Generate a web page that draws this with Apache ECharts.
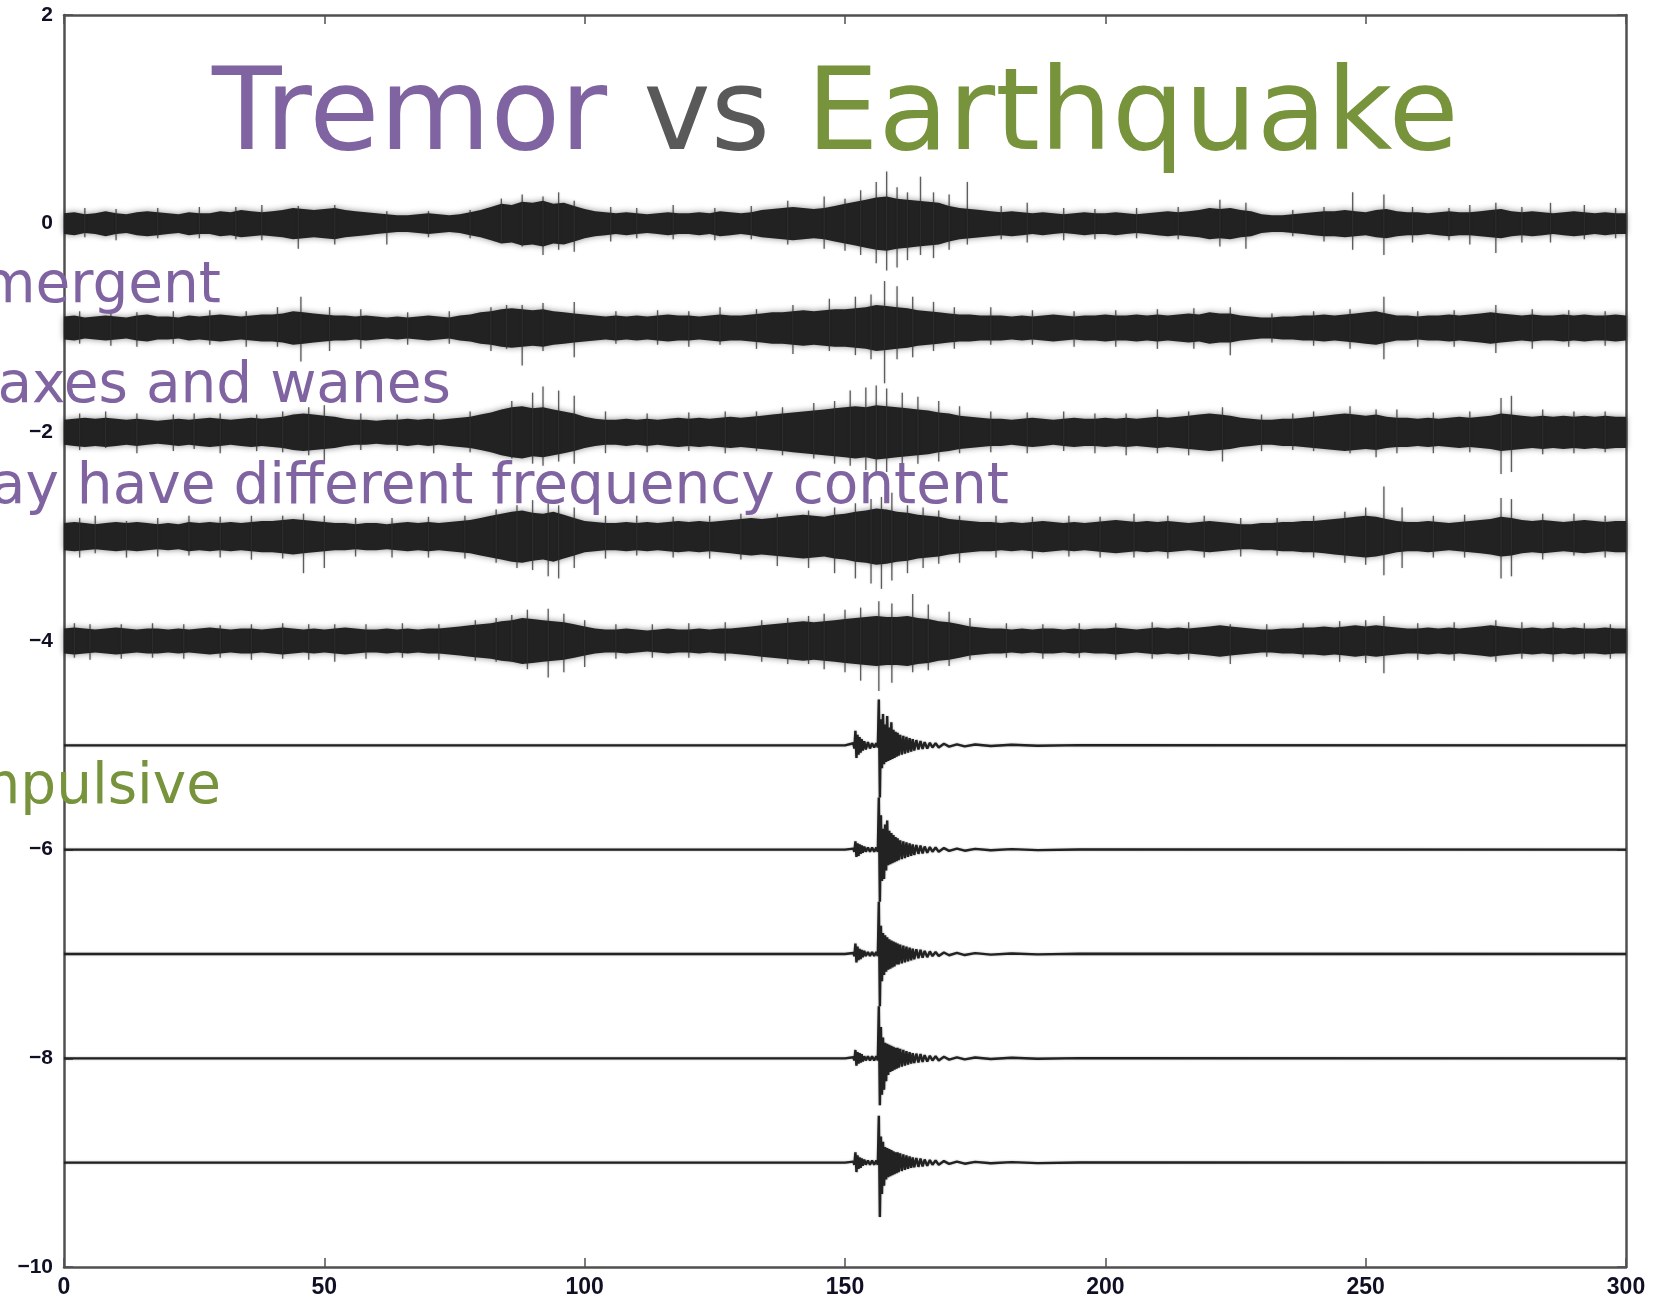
<!DOCTYPE html>
<html>
<head>
<meta charset="utf-8">
<script src="https://cdn.jsdelivr.net/npm/echarts@6/dist/echarts.min.js"></script>
<style>
  html, body { margin: 0; padding: 0; background: #ffffff; }
  #chart { width: 1659px; height: 1303px; }
</style>
</head>
<body>
<div id="chart"></div>
<script>
// ---- Axis ticks -----------------------------------------------------------
const timeTicks = [0, 50, 100, 150, 200, 250, 300];   // seconds
const offsetTicks = [2, 0, -2, -4, -6, -8, -10];      // trace offsets

// ---- Tremor traces (offsets 0 .. -4) --------------------------------------
// Half-width of the dense noise band, hundredths of a unit, one value per 2 s.
const BIN = 2;
const tremorOffsets = [0, -1, -2, -3, -4];

const tremorEnv0 = [
  10, 11, 9, 10, 12, 10, 9, 11, 12, 11,
  10, 9, 11, 10, 10, 12, 11, 13, 12, 11,
  12, 13, 15, 14, 13, 14, 15, 13, 12, 11,
  10, 9, 8, 8, 9, 10, 9, 8, 9, 11,
  13, 16, 19, 18, 21, 20, 22, 19, 20, 17,
  14, 12, 11, 10, 11, 10, 9, 10, 11, 10,
  10, 11, 10, 12, 11, 10, 11, 13, 14, 15,
  16, 15, 14, 15, 17, 19, 21, 23, 25, 26,
  24, 23, 22, 21, 20, 17, 15, 14, 13, 12,
  11, 12, 11, 10, 11, 10, 9, 10, 11, 10,
  10, 11, 10, 9, 10, 11, 12, 11, 12, 13,
  15, 14, 15, 13, 12, 9, 8, 8, 9, 10,
  11, 12, 12, 13, 12, 11, 13, 14, 12, 11,
  11, 10, 11, 12, 11, 11, 12, 13, 14, 12,
  11, 12, 11, 10, 11, 12, 11, 10, 11, 10,
  10
];
const tremorEnv1 = [
  11, 12, 10, 11, 12, 11, 10, 12, 13, 11,
  11, 10, 12, 11, 12, 13, 12, 11, 12, 13,
  13, 14, 16, 15, 14, 13, 12, 12, 11, 12,
  11, 10, 11, 10, 11, 12, 11, 10, 12, 13,
  15, 16, 18, 19, 18, 17, 18, 16, 15, 14,
  13, 12, 11, 12, 11, 12, 11, 12, 13, 12,
  12, 11, 12, 13, 12, 12, 13, 14, 15, 15,
  16, 17, 16, 17, 18, 18, 19, 20, 22, 21,
  20, 19, 17, 16, 15, 14, 13, 13, 12, 12,
  12, 11, 12, 11, 12, 13, 12, 11, 12, 12,
  13, 12, 12, 13, 12, 13, 12, 13, 14, 13,
  15, 14, 14, 12, 11, 10, 10, 11, 11, 12,
  12, 13, 12, 13, 14, 15, 16, 14, 12, 12,
  11, 12, 12, 13, 12, 13, 14, 15, 14, 13,
  12, 13, 12, 12, 13, 12, 13, 12, 12, 13,
  12
];
const tremorEnv2 = [
  12, 13, 14, 13, 14, 13, 12, 13, 12, 11,
  12, 13, 12, 13, 14, 13, 12, 13, 14, 13,
  14, 15, 17, 18, 17, 16, 15, 13, 12, 12,
  11, 12, 12, 13, 12, 13, 12, 13, 14, 15,
  17, 19, 22, 24, 25, 23, 24, 22, 20, 18,
  15, 13, 12, 12, 13, 12, 13, 12, 13, 14,
  13, 14, 13, 14, 15, 14, 15, 16, 17, 18,
  19, 20, 21, 22, 23, 24, 25, 24, 26, 25,
  24, 23, 22, 21, 19, 18, 16, 15, 14, 13,
  13, 12, 13, 14, 13, 12, 13, 14, 13, 13,
  14, 13, 14, 13, 14, 15, 14, 15, 16, 17,
  18, 17, 16, 14, 13, 12, 12, 13, 13, 14,
  15, 16, 17, 18, 17, 16, 17, 15, 14, 14,
  13, 14, 13, 14, 15, 14, 15, 16, 18, 17,
  16, 15, 16, 15, 16, 15, 16, 15, 16, 15,
  15
];
const tremorEnv3 = [
  13, 14, 13, 12, 13, 14, 13, 14, 13, 12,
  13, 12, 14, 13, 14, 13, 14, 13, 14, 15,
  15, 16, 17, 16, 15, 14, 13, 13, 12, 13,
  13, 12, 13, 14, 13, 14, 13, 14, 15, 16,
  18, 20, 22, 24, 25, 23, 22, 24, 21, 18,
  15, 14, 13, 13, 14, 13, 14, 13, 14, 15,
  14, 15, 14, 15, 16, 17, 18, 17, 18, 19,
  20, 21, 20, 19, 21, 22, 24, 25, 27, 26,
  24, 23, 21, 20, 19, 17, 16, 15, 14, 14,
  13, 14, 13, 14, 15, 14, 13, 14, 13, 14,
  15, 16, 15, 14, 15, 14, 15, 14, 13, 14,
  15, 14, 13, 12, 12, 13, 13, 14, 14, 15,
  15, 16, 17, 18, 19, 20, 19, 17, 15, 14,
  14, 15, 14, 13, 14, 15, 16, 17, 19, 18,
  16, 15, 16, 15, 14, 15, 16, 15, 14, 15,
  15
];
const tremorEnv4 = [
  12, 13, 12, 11, 12, 13, 12, 11, 12, 12,
  11, 12, 11, 12, 13, 12, 11, 12, 12, 11,
  12, 13, 12, 11, 12, 11, 12, 13, 12, 11,
  11, 12, 11, 12, 11, 12, 12, 13, 14, 15,
  16, 17, 19, 20, 22, 21, 20, 19, 18, 16,
  14, 12, 11, 11, 12, 11, 10, 11, 12, 11,
  11, 12, 11, 12, 12, 13, 14, 15, 16, 17,
  18, 19, 18, 19, 20, 21, 22, 23, 24, 23,
  23, 24, 22, 21, 19, 18, 16, 14, 13, 12,
  12, 11, 12, 11, 12, 12, 11, 12, 11, 12,
  12, 13, 12, 11, 12, 13, 12, 13, 12, 13,
  14, 15, 14, 13, 12, 11, 11, 12, 12, 13,
  13, 14, 13, 14, 15, 14, 15, 14, 13, 12,
  12, 13, 12, 13, 12, 13, 14, 15, 14, 13,
  12, 13, 12, 13, 12, 13, 12, 12, 13, 12,
  12
];

// Individual excursions standing out of the band: [time s, peak up, peak down]
const tremorSpikes0 = [
  [4, 0.15, -0.13], [10, 0.14, -0.16], [18, 0.15, -0.14], [26, 0.16, -0.14],
  [33, 0.16, -0.15], [38, 0.18, -0.16], [45, 0.17, -0.24], [52, 0.18, -0.2],
  [62, 0.12, -0.2], [70, 0.12, -0.13], [78, 0.13, -0.14], [84, 0.24, -0.18],
  [88, 0.28, -0.22], [92, 0.26, -0.3], [95, 0.3, -0.25], [98, 0.22, -0.27],
  [105, 0.16, -0.17], [110, 0.15, -0.14], [117, 0.18, -0.15], [125, 0.15, -0.16],
  [132, 0.17, -0.15], [139, 0.22, -0.2], [146, 0.26, -0.24], [150, 0.24, -0.26],
  [153, 0.32, -0.3], [156, 0.4, -0.38], [158, 0.5, -0.45], [160, 0.35, -0.42],
  [162, 0.3, -0.35], [164.5, 0.45, -0.3], [167, 0.3, -0.33], [170, 0.28, -0.25],
  [173.5, 0.4, -0.2], [180, 0.17, -0.15], [185, 0.2, -0.18], [192, 0.15, -0.16],
  [198, 0.14, -0.15], [206, 0.15, -0.14], [214, 0.16, -0.15], [222, 0.23, -0.22],
  [227, 0.2, -0.24], [236, 0.13, -0.12], [242, 0.16, -0.17], [247.5, 0.3, -0.25],
  [253.5, 0.28, -0.3], [259, 0.16, -0.18], [266, 0.15, -0.16], [270, 0.18, -0.2],
  [275, 0.2, -0.28], [280, 0.16, -0.18], [285.5, 0.2, -0.18], [292, 0.18, -0.15],
  [298, 0.15, -0.14]
];
const tremorSpikes1 = [
  [3, 0.16, -0.15], [9, 0.15, -0.17], [14, 0.15, -0.18], [21, 0.16, -0.15],
  [28, 0.17, -0.16], [35, 0.16, -0.18], [41, 0.2, -0.18], [45.5, 0.3, -0.32],
  [51, 0.2, -0.22], [57, 0.18, -0.2], [66, 0.15, -0.16], [74, 0.16, -0.15],
  [82, 0.2, -0.22], [85, 0.22, -0.2], [88, 0.22, -0.36], [92, 0.24, -0.22],
  [98, 0.25, -0.28], [106, 0.16, -0.15], [114, 0.17, -0.16], [120, 0.16, -0.18],
  [126, 0.2, -0.16], [133, 0.18, -0.2], [140, 0.22, -0.25], [147, 0.28, -0.22],
  [152, 0.3, -0.26], [155, 0.32, -0.3], [157.6, 0.45, -0.53], [160, 0.4, -0.3],
  [163, 0.3, -0.28], [167, 0.25, -0.22], [171, 0.2, -0.2], [178, 0.2, -0.16],
  [186, 0.17, -0.16], [194, 0.16, -0.18], [202, 0.17, -0.18], [210, 0.18, -0.2],
  [217, 0.19, -0.2], [224, 0.2, -0.26], [232, 0.14, -0.14], [240, 0.16, -0.17],
  [247, 0.18, -0.2], [253.5, 0.3, -0.3], [260, 0.16, -0.18], [267, 0.17, -0.18],
  [275, 0.22, -0.24], [282, 0.18, -0.2], [289, 0.17, -0.18], [296, 0.16, -0.17]
];
const tremorSpikes2 = [
  [3, 0.18, -0.17], [8, 0.2, -0.15], [14, 0.18, -0.2], [21, 0.17, -0.18],
  [25, 0.18, -0.16], [30, 0.18, -0.2], [37, 0.17, -0.18], [42, 0.2, -0.19],
  [47, 0.24, -0.22], [50, 0.26, -0.3], [57, 0.18, -0.17], [64, 0.17, -0.18],
  [71, 0.18, -0.2], [78, 0.2, -0.19], [86, 0.3, -0.25], [90, 0.38, -0.3],
  [92, 0.44, -0.32], [95, 0.4, -0.28], [98, 0.35, -0.3], [104, 0.2, -0.2],
  [112, 0.18, -0.19], [120, 0.19, -0.18], [127, 0.2, -0.2], [133, 0.2, -0.18],
  [138, 0.24, -0.22], [144, 0.28, -0.25], [148, 0.3, -0.3], [151, 0.4, -0.32],
  [154, 0.43, -0.36], [156, 0.45, -0.4], [158, 0.42, -0.38], [161, 0.38, -0.33],
  [164, 0.34, -0.3], [168, 0.3, -0.28], [172, 0.25, -0.2], [178, 0.2, -0.19],
  [185, 0.19, -0.2], [192, 0.2, -0.18], [198, 0.18, -0.2], [204, 0.18, -0.22],
  [210, 0.22, -0.2], [216, 0.2, -0.22], [222.5, 0.24, -0.28], [230, 0.17, -0.18],
  [236, 0.18, -0.17], [240, 0.2, -0.18], [247, 0.25, -0.2], [252, 0.22, -0.24],
  [256, 0.22, -0.2], [263, 0.19, -0.2], [270, 0.2, -0.19], [276, 0.33, -0.4],
  [278, 0.35, -0.38], [284, 0.22, -0.21], [290, 0.2, -0.2], [296, 0.2, -0.19]
];
const tremorSpikes3 = [
  [3, 0.18, -0.2], [6, 0.2, -0.16], [12, 0.15, -0.2], [18, 0.18, -0.19],
  [24, 0.2, -0.18], [30, 0.19, -0.2], [36, 0.2, -0.22], [42, 0.2, -0.21],
  [46, 0.22, -0.35], [50, 0.2, -0.3], [56, 0.18, -0.19], [63, 0.18, -0.2],
  [70, 0.19, -0.2], [77, 0.2, -0.21], [83, 0.26, -0.25], [87, 0.3, -0.3],
  [90, 0.35, -0.32], [93, 0.32, -0.38], [95, 0.3, -0.4], [98, 0.28, -0.3],
  [104, 0.2, -0.21], [110, 0.2, -0.18], [117, 0.19, -0.2], [124, 0.2, -0.21],
  [130, 0.22, -0.22], [137, 0.22, -0.28], [143, 0.25, -0.3], [148, 0.28, -0.35],
  [152, 0.32, -0.4], [155, 0.36, -0.45], [157, 0.38, -0.5], [159, 0.42, -0.42],
  [162, 0.3, -0.35], [165, 0.28, -0.3], [168, 0.25, -0.26], [172, 0.2, -0.25],
  [179, 0.2, -0.2], [186, 0.19, -0.21], [193, 0.2, -0.19], [199, 0.19, -0.2],
  [205.5, 0.22, -0.2], [212, 0.2, -0.21], [219, 0.2, -0.2], [226, 0.18, -0.19],
  [233, 0.18, -0.18], [240, 0.2, -0.2], [246, 0.24, -0.25], [250, 0.28, -0.27],
  [253.5, 0.48, -0.37], [257, 0.28, -0.3], [263, 0.2, -0.2], [269, 0.21, -0.2],
  [276, 0.37, -0.4], [278, 0.36, -0.38], [284, 0.22, -0.22], [290, 0.22, -0.18],
  [296, 0.2, -0.2]
];
const tremorSpikes4 = [
  [2, 0.17, -0.16], [5, 0.16, -0.18], [11, 0.16, -0.17], [17, 0.17, -0.16],
  [23, 0.16, -0.17], [30, 0.15, -0.16], [36, 0.16, -0.18], [42, 0.17, -0.17],
  [47, 0.16, -0.18], [52, 0.16, -0.2], [58, 0.16, -0.17], [65, 0.17, -0.16],
  [72, 0.16, -0.18], [79, 0.2, -0.19], [83, 0.22, -0.2], [86, 0.25, -0.2],
  [89, 0.3, -0.27], [93, 0.31, -0.35], [96, 0.26, -0.3], [100, 0.2, -0.25],
  [106, 0.16, -0.17], [113, 0.16, -0.16], [120, 0.17, -0.16], [127, 0.18, -0.19],
  [134, 0.2, -0.2], [139, 0.22, -0.22], [143, 0.24, -0.22], [146, 0.26, -0.27],
  [150, 0.3, -0.3], [153, 0.32, -0.38], [156.5, 0.38, -0.48], [159, 0.36, -0.4],
  [163, 0.45, -0.3], [166, 0.35, -0.28], [170, 0.28, -0.24], [174, 0.22, -0.18],
  [181, 0.17, -0.16], [188, 0.16, -0.17], [195, 0.17, -0.16], [202, 0.17, -0.18],
  [209, 0.18, -0.17], [216, 0.18, -0.18], [224, 0.16, -0.22], [231, 0.16, -0.15],
  [238, 0.17, -0.16], [245, 0.19, -0.2], [250, 0.2, -0.21], [253.5, 0.24, -0.31],
  [260, 0.17, -0.18], [267, 0.18, -0.19], [275, 0.2, -0.2], [280, 0.18, -0.17],
  [286, 0.18, -0.2], [292, 0.17, -0.17], [297, 0.16, -0.17]
];

// ---- Earthquake traces (offsets -5 .. -9) ---------------------------------
const quakeOffsets = [-5, -6, -7, -8, -9];
const quakeTime = [
  // quiet lead-in and P arrival
  0, 150, 151.6, 151.8, 152.0, 152.2, 152.4, 152.6, 152.8, 153.0,
  153.2, 153.4, 153.7, 154.0, 154.4, 154.8, 155.2, 155.6, 156.0, 156.3,
  // main arrival
  156.5, 156.7, 156.9, 157.1, 157.3, 157.5, 157.7, 157.9, 158.1, 158.3,
  158.5, 158.7, 158.9, 159.1, 159.3, 159.5, 159.7, 159.9, 160.1, 160.3,
  // coda
  160.6, 160.9, 161.2, 161.5, 161.8, 162.1, 162.4, 162.7, 163.0, 163.3,
  163.7, 164.1, 164.5, 164.9, 165.3, 165.8, 166.3, 166.8, 167.4, 168.0,
  // tail
  169, 170, 171.5, 173, 175, 178, 182, 187, 195, 300
];
const quake5 = [
  0, 0, 0.02, -0.03, 0.14, -0.12, 0.1, -0.09, 0.08, -0.07,
  0.06, -0.05, 0.04, -0.04, 0.03, -0.03, 0.02, -0.02, 0.02, -0.02,
  0.44, -0.5, 0.25, -0.22, 0.3, -0.18, 0.2, -0.16, 0.28, -0.15,
  0.17, -0.14, 0.22, -0.13, 0.15, -0.12, 0.13, -0.11, 0.12, -0.1,
  0.1, -0.09, 0.09, -0.08, 0.08, -0.07, 0.07, -0.06, 0.06, -0.05,
  0.05, -0.04, 0.04, -0.035, 0.03, -0.03, 0.025, -0.02, 0.02, -0.02,
  0.015, -0.012, 0.01, -0.01, 0.008, -0.006, 0.005, -0.004, 0.002, 0
];
const quake6 = [
  0, 0, 0.01, -0.02, 0.08, -0.07, 0.06, -0.06, 0.05, -0.04,
  0.04, -0.03, 0.03, -0.02, 0.02, -0.02, 0.02, -0.02, 0.02, -0.02,
  0.5, -0.5, 0.33, -0.3, 0.2, -0.28, 0.24, -0.2, 0.28, -0.15,
  0.18, -0.14, 0.16, -0.13, 0.14, -0.12, 0.12, -0.11, 0.11, -0.1,
  0.09, -0.09, 0.08, -0.08, 0.07, -0.07, 0.06, -0.06, 0.05, -0.05,
  0.045, -0.04, 0.04, -0.035, 0.03, -0.03, 0.025, -0.02, 0.02, -0.02,
  0.015, -0.012, 0.01, -0.01, 0.008, -0.006, 0.005, -0.004, 0.002, 0
];
const quake7 = [
  0, 0, 0.01, -0.02, 0.1, -0.08, 0.07, -0.06, 0.05, -0.05,
  0.04, -0.03, 0.03, -0.02, 0.02, -0.02, 0.02, -0.02, 0.02, -0.02,
  0.5, -0.5, 0.27, -0.26, 0.2, -0.2, 0.18, -0.17, 0.16, -0.15,
  0.14, -0.14, 0.13, -0.13, 0.12, -0.12, 0.11, -0.1, 0.1, -0.1,
  0.09, -0.09, 0.08, -0.08, 0.07, -0.07, 0.06, -0.06, 0.05, -0.05,
  0.045, -0.04, 0.04, -0.035, 0.03, -0.03, 0.025, -0.02, 0.02, -0.02,
  0.015, -0.012, 0.01, -0.01, 0.008, -0.006, 0.005, -0.004, 0.002, 0
];
const quake8 = [
  0, 0, 0.01, -0.02, 0.08, -0.07, 0.06, -0.05, 0.05, -0.04,
  0.04, -0.03, 0.02, -0.02, 0.02, -0.02, 0.02, -0.02, 0.02, -0.02,
  0.5, -0.45, 0.3, -0.35, 0.2, -0.3, 0.15, -0.22, 0.14, -0.16,
  0.13, -0.13, 0.12, -0.12, 0.11, -0.11, 0.1, -0.1, 0.1, -0.09,
  0.09, -0.08, 0.08, -0.07, 0.07, -0.06, 0.06, -0.05, 0.05, -0.045,
  0.045, -0.04, 0.04, -0.035, 0.03, -0.03, 0.025, -0.02, 0.02, -0.02,
  0.015, -0.012, 0.01, -0.01, 0.008, -0.006, 0.005, -0.004, 0.002, 0
];
const quake9 = [
  0, 0, 0.01, -0.02, 0.1, -0.09, 0.07, -0.06, 0.05, -0.05,
  0.04, -0.03, 0.03, -0.02, 0.02, -0.02, 0.02, -0.02, 0.02, -0.02,
  0.45, -0.52, 0.25, -0.3, 0.2, -0.22, 0.15, -0.16, 0.14, -0.14,
  0.13, -0.13, 0.12, -0.12, 0.11, -0.11, 0.1, -0.1, 0.1, -0.09,
  0.09, -0.08, 0.08, -0.07, 0.07, -0.06, 0.06, -0.05, 0.05, -0.045,
  0.045, -0.04, 0.04, -0.035, 0.03, -0.03, 0.025, -0.02, 0.02, -0.02,
  0.015, -0.012, 0.01, -0.01, 0.008, -0.006, 0.005, -0.004, 0.002, 0
];

// ---- Annotation text ------------------------------------------------------
const titleParts = ['Tremor', 'vs', 'Earthquake'];
const tremorNotes = ['Emergent', 'Waxes and wanes', 'May have different frequency content'];
const quakeNotes = ['Impulsive'];

// ---- Styling --------------------------------------------------------------
const PURPLE = '#8064A2';
const GREEN = '#77933C';
const GREY = '#595959';
const INK = '#222222';
const AXIS = '#505050';
const LABEL = '#101024';
const NOTE_FONT = '"DejaVu Sans", "Noto Sans", sans-serif';
const TICK_FONT = '"Liberation Sans", Arial, sans-serif';
const NOTE_SIZE = 56.5;
const TITLE_SIZE = 114;

const tremorEnvs = [tremorEnv0, tremorEnv1, tremorEnv2, tremorEnv3, tremorEnv4];
const tremorSpikes = [tremorSpikes0, tremorSpikes1, tremorSpikes2, tremorSpikes3, tremorSpikes4];
const quakes = [quake5, quake6, quake7, quake8, quake9];

const series = [];

// Noise band of each tremor trace, drawn as one closed outline
tremorEnvs.forEach(function (env, k) {
  const off = tremorOffsets[k];
  series.push({
    type: 'custom',
    name: 'tremor band ' + off,
    data: [[0, off, (env.length - 1) * BIN]],
    encode: { x: [0, 2], y: 1 },
    silent: true,
    z: 2,
    renderItem: function (params, api) {
      const o = api.value(1);
      const upper = [], lower = [];
      for (let i = 0; i < env.length; i++) {
        upper.push(api.coord([i * BIN, o + env[i] / 100]));
        lower.push(api.coord([i * BIN, o - env[i] / 100]));
      }
      return {
        type: 'polygon',
        shape: { points: upper.concat(lower.reverse()) },
        style: {
          fill: INK,
          shadowBlur: 6, shadowColor: 'rgba(0,0,0,0.45)'
        }
      };
    }
  });
});

// Spikes of each tremor trace
tremorSpikes.forEach(function (list, k) {
  const off = tremorOffsets[k];
  series.push({
    type: 'custom',
    name: 'tremor spikes ' + off,
    data: list.map(function (s) { return [s[0], off + s[1], off + s[2]]; }),
    encode: { x: 0, y: [1, 2] },
    silent: true,
    z: 3,
    renderItem: function (params, api) {
      const a = api.coord([api.value(0), api.value(1)]);
      const b = api.coord([api.value(0), api.value(2)]);
      return {
        type: 'line',
        shape: { x1: a[0], y1: a[1], x2: b[0], y2: b[1] },
        style: { stroke: 'rgba(50,50,50,0.75)', lineWidth: 1.3, shadowBlur: 2, shadowColor: 'rgba(0,0,0,0.3)' }
      };
    }
  });
});

// Earthquake traces
quakes.forEach(function (vals, k) {
  const off = quakeOffsets[k];
  series.push({
    type: 'line',
    name: 'earthquake ' + off,
    data: quakeTime.map(function (t, i) { return [t, off + vals[i]]; }),
    showSymbol: false,
    symbol: 'none',
    silent: true,
    z: 2,
    lineStyle: { color: '#222222', width: 2.4, shadowBlur: 2, shadowColor: 'rgba(0,0,0,0.35)' }
  });
});

function fmtTick(v) {
  return v < 0 ? '\u2212' + Math.abs(v) : String(v);
}

function axisParts() {
  return {
    axisLine: { show: true, onZero: false, lineStyle: { color: AXIS, width: 2.5 } },
    axisTick: { show: true, inside: true, length: 9, lineStyle: { color: AXIS, width: 1.5 } },
    splitLine: { show: false }
  };
}

const option = {
  animation: false,
  backgroundColor: '#ffffff',
  grid: { left: 64, right: 33, top: 15, bottom: 36, containLabel: false },
  xAxis: [
    Object.assign({
      type: 'value', position: 'bottom',
      min: timeTicks[0], max: timeTicks[timeTicks.length - 1], interval: 50,
      axisLabel: { show: true, margin: 9, fontSize: 23, fontWeight: 'bold', color: LABEL, fontFamily: TICK_FONT, formatter: fmtTick }
    }, axisParts()),
    Object.assign({
      type: 'value', position: 'top',
      min: timeTicks[0], max: timeTicks[timeTicks.length - 1], interval: 50,
      axisLabel: { show: false }
    }, axisParts())
  ],
  yAxis: [
    Object.assign({
      type: 'value', position: 'left',
      min: offsetTicks[offsetTicks.length - 1], max: offsetTicks[0], interval: 2,
      axisLabel: { show: true, margin: 11, fontSize: 21, fontWeight: 'bold', color: LABEL, fontFamily: TICK_FONT, formatter: fmtTick }
    }, axisParts()),
    Object.assign({
      type: 'value', position: 'right',
      min: offsetTicks[offsetTicks.length - 1], max: offsetTicks[0], interval: 2,
      axisLabel: { show: false }
    }, axisParts())
  ],
  series: series,
  graphic: [
    {
      type: 'text', x: 212, y: 119, z: 100, silent: true,
      style: {
        text: '{p|' + titleParts[0] + '} {g|' + titleParts[1] + '} {q|' + titleParts[2] + '}',
        align: 'left', verticalAlign: 'middle',
        font: TITLE_SIZE + 'px ' + NOTE_FONT,
        rich: {
          p: { fill: PURPLE, fontSize: TITLE_SIZE, fontFamily: NOTE_FONT },
          g: { fill: GREY, fontSize: TITLE_SIZE, fontFamily: NOTE_FONT },
          q: { fill: GREEN, fontSize: TITLE_SIZE, fontFamily: NOTE_FONT }
        },
        fill: GREY
      }
    },
    { type: 'text', x: 221, y: 287, z: 100, silent: true,
      style: { text: tremorNotes[0], align: 'right', verticalAlign: 'middle', fill: PURPLE, font: NOTE_SIZE + 'px ' + NOTE_FONT } },
    { type: 'text', x: 451, y: 387, z: 100, silent: true,
      style: { text: tremorNotes[1], align: 'right', verticalAlign: 'middle', fill: PURPLE, font: NOTE_SIZE + 'px ' + NOTE_FONT } },
    { type: 'text', x: 1009, y: 488, z: 100, silent: true,
      style: { text: tremorNotes[2], align: 'right', verticalAlign: 'middle', fill: PURPLE, font: NOTE_SIZE + 'px ' + NOTE_FONT } },
    { type: 'text', x: 221, y: 788, z: 100, silent: true,
      style: { text: quakeNotes[0], align: 'right', verticalAlign: 'middle', fill: GREEN, font: NOTE_SIZE + 'px ' + NOTE_FONT } }
  ]
};

const chart = echarts.init(document.getElementById('chart'), null, { renderer: 'canvas' });
chart.setOption(option);
</script>
</body>
</html>
